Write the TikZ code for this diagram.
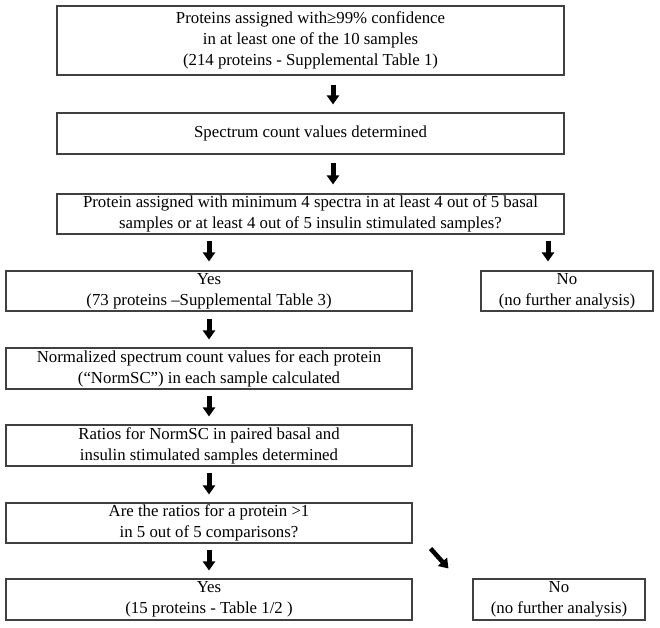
\documentclass[tikz,border=0pt]{standalone}
\usepackage{fontspec}
\setmainfont{Liberation Serif}
\usetikzlibrary{arrows.meta}
\begin{document}
\begin{tikzpicture}[x=1pt,y=-1pt,
  flowbox/.style={draw=black!75, line width=1.1pt, align=center, inner sep=0pt,
    font=\fontsize{16.8}{21}\selectfont, anchor=center},
  barrow/.style={line width=5pt, draw=black, -{Triangle[width=12pt,length=9pt]}}]
\useasboundingbox (0,0) rectangle (660,627);
\node[flowbox, minimum width=507pt, minimum height=69pt] (b1) at (310.5,40.5)
  {Proteins assigned with≥99\% confidence\\in at least one of the 10 samples\\(214 proteins - Supplemental Table 1)};
\node[flowbox, minimum width=507pt, minimum height=41pt] (b2) at (310.5,133.5)
  {Spectrum count values determined};
\node[flowbox, minimum width=507pt, minimum height=40pt] (b3) at (310.5,214)
  {Protein assigned with minimum 4 spectra in at least 4 out of 5 basal\\samples or at least 4 out of 5 insulin stimulated samples?};
\node[flowbox, minimum width=406pt, minimum height=40pt] (yes1) at (209,291)
  {Yes\\(73 proteins –Supplemental Table 3)};
\node[flowbox, minimum width=172pt, minimum height=40pt] (no1) at (567,291)
  {No\\(no further analysis)};
\node[flowbox, minimum width=406pt, minimum height=41pt] (b4) at (209,368.5)
  {Normalized spectrum count values for each protein\\(“NormSC”) in each sample calculated};
\node[flowbox, minimum width=406pt, minimum height=41pt] (b5) at (209,445.5)
  {Ratios for NormSC in paired basal and\\insulin stimulated samples determined};
\node[flowbox, minimum width=406pt, minimum height=40pt] (b6) at (209,523)
  {Are the ratios for a protein >1\\in 5 out of 5 comparisons?};
\node[flowbox, minimum width=406pt, minimum height=41pt] (yes2) at (209,599.5)
  {Yes\\(15 proteins - Table 1/2 )};
\node[flowbox, minimum width=172pt, minimum height=41pt] (no2) at (559,599.5)
  {No\\(no further analysis)};
\coordinate (ax) at (333,0);
\coordinate (nx) at (548,0);
\draw[barrow, shorten <=9pt, shorten >=8pt] (b1.south -| ax) -- (b2.north -| ax);
\draw[barrow, shorten <=8pt, shorten >=9pt] (b2.south -| ax) -- (b3.north -| ax);
\draw[barrow, shorten <=6pt, shorten >=9pt] (b3.south -| yes1.north) -- (yes1.north);
\draw[barrow, shorten <=6pt, shorten >=9pt] (b3.south -| nx) -- (no1.north -| nx);
\draw[barrow, shorten <=7pt, shorten >=8pt] (yes1.south) -- (b4.north);
\draw[barrow, shorten <=6pt, shorten >=8pt] (b4.south) -- (b5.north);
\draw[barrow, shorten <=6pt, shorten >=8pt] (b5.south) -- (b6.north);
\draw[barrow, shorten <=6pt, shorten >=8pt] (b6.south) -- (yes2.north);
\draw[barrow, line width=4.5pt] ([shift={(18pt,-5pt)}]b6.south east) -- ([shift={(-24pt,10pt)}]no2.north west);
\end{tikzpicture}
\end{document}
